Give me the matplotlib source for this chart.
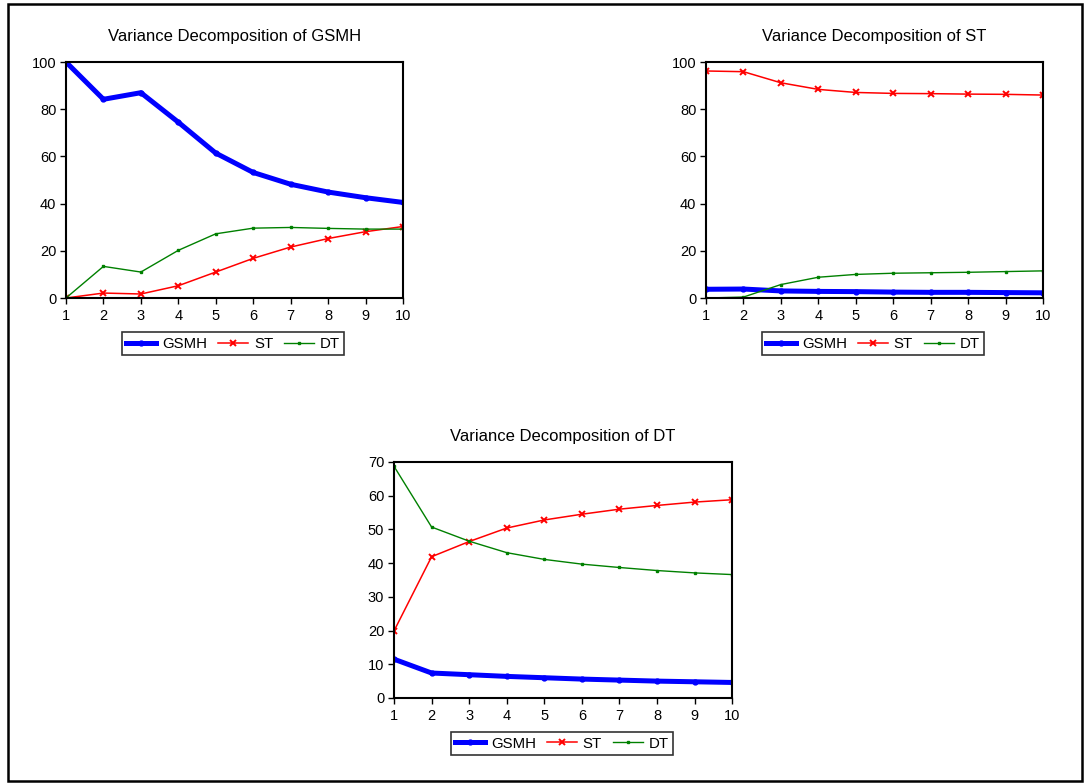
import matplotlib.pyplot as plt
from matplotlib.patches import Rectangle

plt.rcParams['font.family'] = ['Liberation Sans', 'DejaVu Sans']

# Forecast horizon
periods = list(range(1, 11))

# Variance decomposition of GSMH
gsmh_gsmh = [100, 84.2, 87.0, 74.5, 61.4, 53.2, 48.2, 44.9, 42.5, 40.5]
gsmh_st = [0, 2.1, 1.7, 5.2, 11.0, 16.8, 21.6, 25.2, 28.1, 30.3]
gsmh_dt = [0, 13.4, 11.0, 20.2, 27.2, 29.6, 29.9, 29.5, 29.2, 29.2]

# Variance decomposition of ST
st_gsmh = [3.7, 3.8, 3.0, 2.8, 2.7, 2.5, 2.4, 2.4, 2.3, 2.2]
st_st = [96.2, 95.9, 91.2, 88.4, 87.1, 86.7, 86.6, 86.4, 86.3, 86.0]
st_dt = [0, 0.4, 5.7, 8.8, 10.0, 10.5, 10.7, 10.9, 11.2, 11.5]

# Variance decomposition of DT
dt_gsmh = [11.5, 7.4, 6.9, 6.4, 6.0, 5.6, 5.3, 5.0, 4.8, 4.6]
dt_st = [19.9, 41.9, 46.4, 50.4, 52.8, 54.5, 56.0, 57.1, 58.1, 58.8]
dt_dt = [68.7, 50.7, 46.5, 43.1, 41.1, 39.7, 38.7, 37.8, 37.1, 36.6]

fig = plt.figure(figsize=(10.87, 7.83), dpi=100)

# outer frame
fig.patches.append(Rectangle((0.007, 0.003), 0.988, 0.992, transform=fig.transFigure,
                             fill=False, edgecolor='black', linewidth=1.8))


def panel(rect, title, g, s, d, ymax, ystep, legend_xy):
    ax = fig.add_axes(rect)
    ax.plot(periods, g, color='#0000ff', linewidth=3.6, marker='o', markersize=3.5, label='GSMH')
    ax.plot(periods, s, color='#ff0000', linewidth=1.1, marker='x', markersize=4,
            markeredgewidth=1.4, label='ST')
    ax.plot(periods, d, color='#008000', linewidth=1.0, marker='s', markersize=2, label='DT')
    ax.set_xlim(1, 10)
    ax.set_ylim(0, ymax)
    ax.set_xticks(periods)
    ax.set_yticks(range(0, ymax + 1, ystep))
    ax.tick_params(direction='out', length=4, width=1, labelsize=10.5)
    ax.tick_params(axis='x', pad=4)
    ax.tick_params(axis='y', pad=3)
    for sp in ax.spines.values():
        sp.set_linewidth(1.5)
    ax.set_title(title, fontsize=12, pad=15)
    leg = fig.legend(handles=ax.get_lines(), loc='center', bbox_to_anchor=legend_xy, ncol=3,
                     fontsize=10.8, frameon=True, fancybox=False, edgecolor='black',
                     handlelength=2.0, columnspacing=0.7, handletextpad=0.4,
                     borderpad=0.3, borderaxespad=0)
    leg.get_frame().set_linewidth(1.2)
    return ax


panel([0.0607, 0.6194, 0.310, 0.3014], 'Variance Decomposition of GSMH',
      gsmh_gsmh, gsmh_st, gsmh_dt, 100, 20, (0.2144, 0.5607))
panel([0.6495, 0.6194, 0.310, 0.3014], 'Variance Decomposition of ST',
      st_gsmh, st_st, st_dt, 100, 20, (0.8031, 0.5607))
panel([0.3625, 0.1086, 0.311, 0.3014], 'Variance Decomposition of DT',
      dt_gsmh, dt_st, dt_dt, 70, 10, (0.517, 0.0504))

plt.savefig('out.png', dpi=100)
